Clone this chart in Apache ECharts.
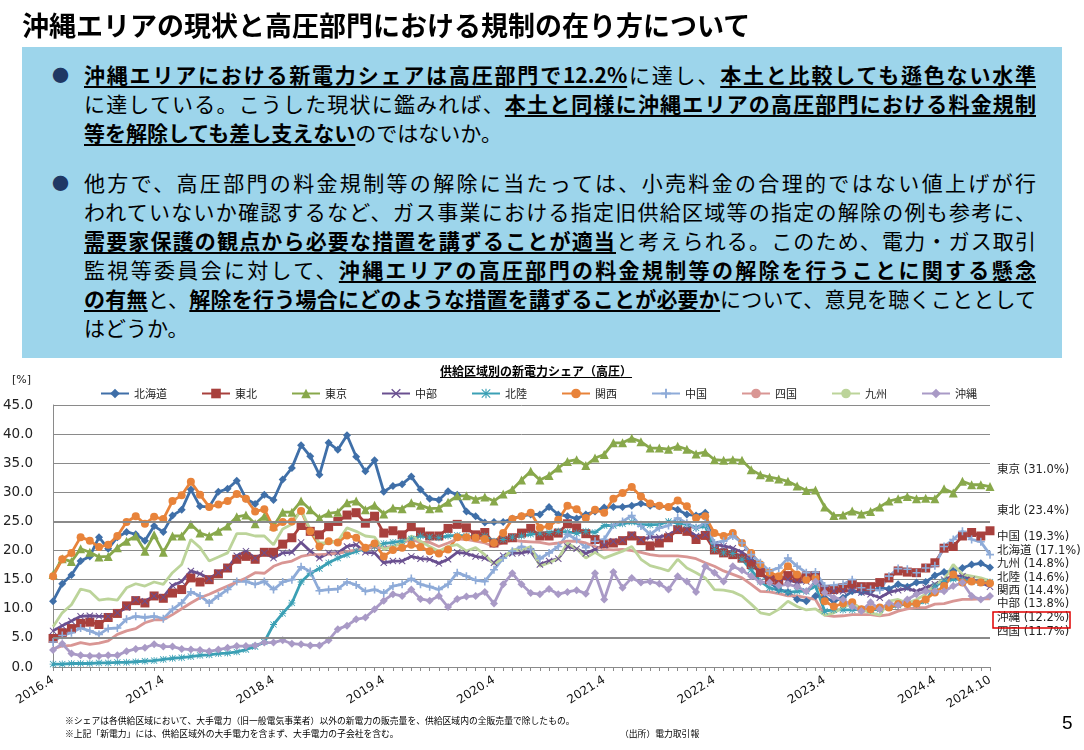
<!DOCTYPE html>
<html>
<head>
<meta charset="utf-8">
<script src="https://cdn.jsdelivr.net/npm/echarts@6/dist/echarts.min.js"></script>
<style>
body { margin: 0; background: #fff; font-family: "Noto Sans CJK JP", sans-serif; }
#page { position: relative; width: 1084px; height: 750px; overflow: hidden; }
#share-chart { position: absolute; left: 0; top: 0; width: 1084px; height: 750px; }
.ov { position: absolute; z-index: 2; color: #000; white-space: nowrap; }
#title { left: 22px; top: 8px; font-size: 27px; font-weight: bold; line-height: 34px; }
#box { position: absolute; left: 22px; top: 47px; width: 1040px; height: 311px; background: #9dd5eb; z-index: 1; }
.para { left: 84px; width: 952px; font-size: 21px; line-height: 29px; }
.para div { white-space: nowrap; }
.j { text-align: justify; text-align-last: justify; }
.u { font-weight: bold; text-decoration: underline; text-decoration-thickness: 2px; text-underline-offset: 3px; }
.bul { left: 52px; font-size: 17px; color: #1f3864; line-height: 29px; }
#ctitle { left: 440px; top: 362px; font-size: 12px; font-weight: bold; text-decoration: underline; }
.note { left: 65px; font-size: 8.8px; line-height: 12px; color: #000; }
#pno { left: 1062px; top: 712px; font-size: 19px; font-family: "Liberation Sans", sans-serif; }
</style>
</head>
<body>
<div id="page">
  <div id="share-chart"></div>
  <div id="title" class="ov">沖縄エリアの現状と高圧部門における規制の在り方について</div>
  <div id="box"></div>
  <div class="ov bul" style="top:60px">●</div>
  <div class="ov para" style="top:60px">
    <div class="j"><span class="u">沖縄エリアにおける新電力シェアは高圧部門で12.2%</span>に達し、<span class="u">本土と比較しても遜色ない水準</span></div>
    <div class="j">に達している。こうした現状に鑑みれば、<span class="u">本土と同様に沖縄エリアの高圧部門における料金規制</span></div>
    <div><span class="u">等を解除しても差し支えない</span>のではないか。</div>
  </div>
  <div class="ov bul" style="top:168px">●</div>
  <div class="ov para" style="top:168px">
    <div class="j">他方で、高圧部門の料金規制等の解除に当たっては、小売料金の合理的ではない値上げが行</div>
    <div class="j">われていないか確認するなど、ガス事業における指定旧供給区域等の指定の解除の例も参考に、</div>
    <div class="j"><span class="u">需要家保護の観点から必要な措置を講ずることが適当</span>と考えられる。このため、電力・ガス取引</div>
    <div class="j">監視等委員会に対して、<span class="u">沖縄エリアの高圧部門の料金規制等の解除を行うことに関する懸念</span></div>
    <div class="j"><span class="u">の有無</span>と、<span class="u">解除を行う場合にどのような措置を講ずることが必要か</span>について、意見を聴くこととして</div>
    <div>はどうか。</div>
  </div>
  <div id="ctitle" class="ov">供給区域別の新電力シェア（高圧）</div>
  <div class="ov note" style="top:715px">※シェアは各供給区域において、大手電力（旧一般電気事業者）以外の新電力の販売量を、供給区域内の全販売量で除したもの。</div>
  <div class="ov note" style="top:728px">※上記「新電力」には、供給区域外の大手電力を含まず、大手電力の子会社を含む。</div>
  <div class="ov note" style="top:728px;left:620px">（出所）電力取引報</div>
  <div id="pno" class="ov">5</div>
</div>
<script>
// 2016.4 - 2024.10 monthly share [%]
var tickLabels = ['2016.4', '2017.4', '2018.4', '2019.4', '2020.4', '2021.4', '2022.4', '2023.4', '2024.4', '2024.10'];
var areaNames = ['北海道', '東北', '東京', '中部', '北陸', '関西', '中国', '四国', '九州', '沖縄'];

var hokkaido = [11.3,14.3,15.8,18.2,19.0,22.3,20.3,22.3,23.2,22.8, 21.7,24.2,23.2,26.0,27.0,30.5,27.6,27.5,30.1,30.6,
  32.0,28.9,28.0,29.6,28.7,32.2,34.2,38.1,36.2,33.0, 38.5,37.3,39.8,36.1,33.6,35.5,30.1,31.1,31.4,32.7,
  30.5,28.9,28.7,30.2,29.6,26.7,25.9,24.8,24.9,24.9, 25.5,25.9,26.2,26.2,27.5,26.2,25.9,25.5,26.2,26.7,
  27.4,27.5,27.5,27.7,28.1,27.7,27.6,27.5,27.0,26.2, 26.0,26.5,20.2,19.9,19.6,19.0,18.2,16.2,14.6,13.3,
  12.9,11.6,11.3,12.2,11.9,11.3,11.9,13.0,12.9,13.0, 13.6,13.4,14.2,13.8,14.5,14.6,15.7,16.3,16.5,17.0,
  17.6,17.8,17.1];
var tohoku = [4.9,5.9,6.6,7.5,7.7,7.3,8.5,9.2,10.5,11.4, 11.0,12.2,11.8,12.7,13.3,15.3,14.6,15.0,16.0,17.0,
  18.5,19.0,18.5,19.7,19.7,21.1,22.2,24.3,23.3,22.7, 24.1,25.0,26.1,26.5,24.7,25.9,23.0,23.4,22.7,24.1,
  23.2,22.5,22.5,23.8,24.5,23.9,22.7,23.1,21.3,21.8, 22.2,23.0,23.8,22.5,22.5,23.0,24.6,23.9,22.9,21.9,
  21.2,21.3,21.7,22.5,21.7,20.8,21.3,22.2,23.6,23.3, 21.9,22.6,20.1,19.6,19.3,18.7,17.6,16.2,15.0,14.9,
  15.7,15.3,15.6,15.7,13.3,13.3,13.6,14.2,13.8,13.8, 14.5,15.3,16.5,16.3,16.2,17.0,17.9,20.4,20.7,22.5,
  23.1,22.5,23.4];
var tokyo = [15.9,18.6,18.1,20.3,19.7,18.9,19.0,20.5,21.6,22.5, 19.9,22.7,19.7,22.5,22.5,24.5,23.0,22.5,23.3,24.2,
  25.8,26.1,24.6,25.9,24.2,26.6,26.6,28.5,27.0,25.6, 26.4,26.6,28.2,28.5,27.0,27.8,26.3,27.3,27.2,28.2,
  27.8,27.2,27.3,28.3,29.4,29.4,28.8,29.2,28.5,29.7, 30.5,32.1,33.6,32.1,32.9,34.2,35.3,35.6,34.6,35.9,
  36.5,38.5,38.5,39.3,38.7,37.6,37.6,37.4,37.9,37.4, 36.6,36.9,35.6,35.5,35.6,35.5,33.9,33.0,32.6,32.3,
  31.9,31.1,30.3,30.4,27.5,26.0,26.1,26.8,26.3,26.7, 27.5,28.5,28.9,29.3,28.9,29.0,28.9,30.6,29.9,31.9,
  31.3,31.3,31.0];
var chubu = [6.2,7.1,7.9,8.7,8.8,8.7,8.7,9.3,10.2,11.6, 11.3,12.2,12.0,14.0,14.7,16.5,16.0,15.2,16.2,17.0,
  19.1,19.9,18.7,19.6,18.7,19.6,19.7,21.4,19.9,18.7, 19.6,19.6,20.7,21.0,19.7,19.6,17.9,18.2,18.2,19.0,
  18.6,18.5,17.8,18.5,19.7,19.5,19.0,18.7,17.9,19.1, 19.5,19.6,19.9,17.6,18.2,18.6,20.7,20.3,19.5,20.2,
  20.9,21.6,21.8,22.7,21.9,22.3,22.3,22.7,23.6,23.6, 22.5,22.7,21.0,20.8,20.4,19.7,18.6,17.3,15.9,15.3,
  15.0,14.5,14.7,15.6,13.3,13.0,13.0,13.2,12.8,12.5, 11.9,12.8,13.2,13.5,13.0,13.6,14.2,15.0,15.6,15.6,
  15.0,14.5,13.8];
var hokuriku = [0.5,0.5,0.6,0.6,0.6,0.7,0.7,0.8,0.8,0.9, 1.0,1.1,1.3,1.5,1.6,1.8,2.0,2.1,2.3,2.4,
  2.6,3.0,3.5,4.3,7.3,9.2,11.0,14.6,16.1,16.9, 17.9,18.7,19.3,19.9,20.3,20.7,21.2,21.4,21.6,22.0,
  22.5,22.3,22.2,22.5,22.6,22.5,22.3,22.5,21.6,21.9, 22.3,22.5,22.8,23.0,23.1,23.3,23.2,23.0,23.3,23.1,
  24.3,24.3,24.6,24.9,24.5,24.4,24.5,25.0,24.7,24.5, 23.9,24.2,20.2,19.6,19.5,18.5,16.7,14.7,13.6,13.2,
  12.8,13.0,13.0,13.9,9.6,9.8,9.8,9.8,9.9,9.8, 9.9,10.2,10.6,10.8,10.8,11.3,13.9,14.7,15.1,15.0,
  14.7,14.5,14.6];
var kansai = [15.6,18.5,19.6,22.3,21.7,20.6,21.0,22.5,24.9,25.9, 24.6,25.8,25.4,28.5,29.5,31.8,29.6,27.5,27.9,28.5,
  29.7,28.9,26.7,27.1,23.9,24.9,25.0,26.8,23.3,20.7, 21.6,21.4,22.6,22.2,20.5,21.2,19.0,20.1,20.5,21.0,
  20.6,19.9,19.5,20.2,22.3,22.3,22.2,22.0,21.3,23.0, 25.4,25.9,26.5,23.9,24.2,25.3,27.7,27.1,25.6,27.0,
  26.5,28.9,29.9,30.9,29.3,28.1,27.7,27.5,28.6,27.6, 25.6,25.9,23.0,22.5,23.0,21.3,19.6,17.6,16.2,15.6,
  17.3,15.9,15.0,15.3,11.3,10.4,10.9,11.1,9.9,9.9, 10.2,10.2,10.8,10.8,10.9,11.6,12.8,13.9,15.9,14.5,
  14.7,14.5,14.4];
var chugoku = [4.3,5.4,5.9,6.7,6.2,5.6,6.6,6.7,8.2,8.7, 8.5,8.7,8.3,9.9,11.0,12.9,12.2,11.0,12.2,13.3,
  14.7,14.7,14.2,14.7,13.3,14.6,15.0,17.2,16.4,13.1, 13.3,13.4,14.6,14.1,13.0,13.3,12.7,13.9,14.2,15.2,
  14.2,13.8,13.3,14.2,16.2,15.6,14.9,14.7,16.7,18.7, 19.9,20.7,20.2,18.6,19.6,20.7,22.8,21.9,20.5,21.6,
  21.9,24.4,25.0,26.0,24.2,22.8,23.9,24.3,25.6,24.7, 23.9,24.7,21.3,21.6,22.5,21.3,19.3,17.9,16.5,17.0,
  18.7,17.3,16.2,16.3,13.9,14.0,14.2,15.0,13.6,13.3, 13.2,15.6,16.9,16.8,16.2,17.0,17.4,20.7,21.9,23.3,
  21.9,21.5,19.3];
var shikoku = [3.1,3.6,3.7,4.2,3.9,4.1,4.5,5.6,6.2,6.6, 7.6,8.1,8.1,9.0,10.0,11.0,11.9,12.5,13.2,13.9,
  14.6,15.3,16.2,16.1,17.3,17.9,18.2,19.0,19.3,19.3, 19.4,19.5,19.8,20.1,20.4,20.5,20.5,20.7,21.3,21.9,
  21.4,21.4,20.7,21.3,22.0,21.9,21.6,21.3,20.7,21.4, 21.8,21.6,21.5,21.4,21.1,21.3,21.6,21.6,21.3,20.7,
  20.2,20.1,20.2,20.0,19.7,19.3,19.1,19.1,19.1,18.9, 18.6,17.9,17.3,16.5,15.9,15.3,14.2,13.0,12.9,12.6,
  12.2,12.2,11.9,11.6,8.9,8.7,8.8,9.0,9.0,9.0, 8.8,9.0,9.6,10.0,10.2,10.2,10.8,10.9,11.3,11.6,
  11.6,11.7,11.7];
var kyushu = [6.9,9.3,10.7,13.4,13.0,11.5,11.7,11.5,13.6,14.3, 13.9,14.6,14.2,16.2,17.6,21.9,20.5,18.2,18.9,19.6,
  22.9,22.9,22.5,22.5,21.0,23.7,24.5,27.0,23.6,21.3, 21.3,21.6,23.9,23.3,22.5,22.3,20.2,20.7,21.3,22.5,
  21.6,20.7,19.9,20.7,21.0,19.9,20.5,19.3,17.7,18.7, 20.2,20.0,20.7,17.3,17.9,18.6,21.3,20.3,18.7,19.7,
  18.7,19.3,19.9,20.7,18.5,17.4,17.0,16.5,18.5,17.0, 16.2,15.3,13.3,13.2,12.9,12.2,10.8,9.3,9.0,9.9,
  11.3,10.4,9.8,10.0,8.9,9.3,10.2,11.0,9.9,9.3, 8.9,11.3,11.6,11.0,11.6,12.5,14.2,15.0,17.6,15.9,
  15.6,15.3,14.8];
var okinawa = [2.9,4.0,2.3,2.0,1.9,1.9,2.0,2.0,2.7,3.1, 3.3,3.9,3.5,3.5,3.1,3.0,2.9,2.7,3.0,3.3,
  3.6,3.6,3.7,4.2,4.2,4.6,4.0,3.9,3.7,3.7, 4.6,6.5,7.1,8.2,8.5,9.9,11.4,12.5,12.2,13.3,
  11.7,11.4,12.2,10.3,11.7,12.1,12.2,12.9,10.9,14.2, 16.1,14.2,12.7,12.5,13.4,12.5,12.9,13.2,12.6,16.1,
  11.6,16.3,13.6,15.3,14.5,14.7,14.3,13.3,15.6,14.7, 12.9,17.3,16.2,14.7,17.3,16.6,15.6,14.6,14.5,14.0,
  14.2,13.8,13.0,14.7,12.8,11.9,11.6,10.4,9.6,11.1, 9.9,11.0,10.6,11.6,12.5,13.0,13.0,13.0,13.9,14.5,
  12.2,11.6,12.2];

// right side labels (latest month)
var endLabels = ['東京 (31.0%)', '東北 (23.4%)', '中国 (19.3%)', '北海道 (17.1%)', '九州 (14.8%)',
  '北陸 (14.6%)', '関西 (14.4%)', '中部 (13.8%)', '沖縄 (12.2%)', '四国 (11.7%)'];

var colors = ['#3f6fa8', '#a8403d', '#88a84b', '#6a5090', '#3ba0b5', '#e8833a', '#8eabd8', '#d99694', '#bcd49a', '#a99ac6'];
var symX = 'path://M0,1L1,0L5,4L9,0L10,1L6,5L10,9L9,10L5,6L1,10L0,9L4,5Z';
var symPlus = 'path://M4,0H6V4H10V6H6V10H4V6H0V4H4Z';
var symStar = 'path://M4.4,0H5.6V4.4H10V5.6H5.6V10H4.4V5.6H0V4.4H4.4Z M1,0.2L5,4.2L9,0.2L9.8,1L5.8,5L9.8,9L9,9.8L5,5.8L1,9.8L0.2,9L4.2,5L0.2,1Z';
var symbols = ['diamond', 'rect', 'triangle', symX, symStar, 'circle', symPlus, 'none', 'none', 'diamond'];
var symSizes = [8, 9, 9, 7, 7, 8, 8, 0, 0, 8];

var months = [];
for (var y = 2016; y <= 2024; y++) {
    for (var m = 1; m <= 12; m++) {
        if (y == 2016 && m < 4) continue;
        if (y == 2024 && m > 10) break;
        months.push(y + '.' + m);
    }
}

var chart = echarts.init(document.getElementById('share-chart'));
var allData = [hokkaido, tohoku, tokyo, chubu, hokuriku, kansai, chugoku, shikoku, kyushu, okinawa];

var series = allData.map(function (d, i) {
    var s = {
        name: areaNames[i],
        type: 'line',
        data: d,
        symbol: symbols[i],
        symbolSize: symSizes[i],
        showSymbol: symbols[i] != 'none',
        showAllSymbol: true,
        lineStyle: { width: 2.8, color: colors[i] },
        itemStyle: { color: colors[i] }
    };
    if (i == 0) {
        // heavier grid lines at 5 and 25
        s.markLine = {
            silent: true,
            symbol: 'none',
            label: { show: false },
            lineStyle: { color: '#8a8a8a', width: 2, type: 'solid' },
            data: [{ yAxis: 5 }, { yAxis: 25 }]
        };
    }
    return s;
});

var labelGraphics = endLabels.map(function (t, i) {
    var ys = [472, 513, 539, 553, 566, 580, 593, 606, 620, 634];
    return {
        type: 'text', left: 997, top: ys[i] - 8,
        style: { text: t, fill: '#222', font: '11.5px "DejaVu Sans", "Noto Sans CJK JP"' }
    };
});
labelGraphics.push({
    type: 'rect', shape: { x: 993, y: 612, width: 77, height: 16 },
    style: { fill: 'none', stroke: '#e00000', lineWidth: 1.5 }
});
labelGraphics.push({
    type: 'text', left: 12, top: 375,
    style: { text: '[%]', fill: '#222', font: '11px "DejaVu Sans"' }
});

option = {
    animation: false,
    color: colors,
    grid: { left: 52, right: 94, top: 405, bottom: 83 },
    legend: {
        data: areaNames,
        left: 95,
        top: 383,
        itemWidth: 28,
        itemHeight: 12,
        itemGap: 34,
        textStyle: { fontSize: 11, color: '#222', fontFamily: 'Noto Sans CJK JP' }
    },
    xAxis: {
        type: 'category',
        data: months,
        boundaryGap: false,
        axisLine: { lineStyle: { color: '#8a8a8a', width: 1 } },
        axisTick: { show: true, interval: 0, length: 4, lineStyle: { color: '#8a8a8a' } },
        axisLabel: {
            interval: function (idx, val) {
                return tickLabels.indexOf(val) >= 0;
            },
            rotate: 32,
            margin: 12,
            fontSize: 12,
            color: '#111',
            fontFamily: 'DejaVu Sans'
        },
        splitLine: { show: false }
    },
    yAxis: {
        type: 'value',
        min: 0,
        max: 45,
        interval: 5,
        axisLine: { show: true, lineStyle: { color: '#8a8a8a' } },
        axisTick: { show: false },
        axisLabel: {
            formatter: function (v) { return v.toFixed(1); },
            fontSize: 13.5,
            margin: 20,
            color: '#222',
            fontFamily: 'DejaVu Sans'
        },
        splitLine: { lineStyle: { color: '#8a8a8a', width: 1 } }
    },
    graphic: labelGraphics,
    series: series
};
chart.setOption(option);
</script>
</body>
</html>
